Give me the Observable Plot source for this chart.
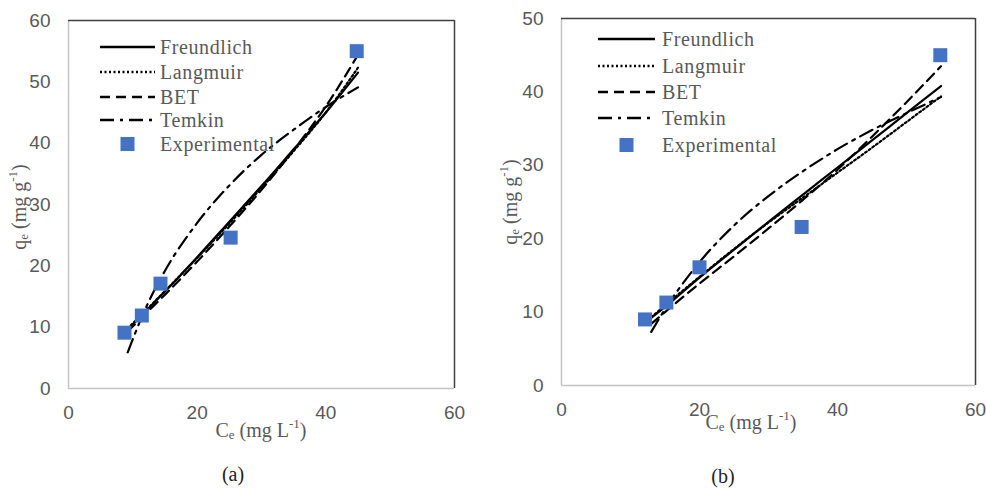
<!DOCTYPE html>
<html>
<head>
<meta charset="utf-8">
<script src="https://cdn.jsdelivr.net/npm/d3@7"></script>
<script src="https://cdn.jsdelivr.net/npm/@observablehq/plot@0.6"></script>
<style>
  html, body { margin: 0; padding: 0; background: #fff; }
  #wrap { position: relative; width: 986px; height: 488px; overflow: hidden; }
  .panel { position: absolute; top: 0; }
  .cap { position: absolute; font-family: "Liberation Serif", "Times New Roman", serif; font-size: 20px; color: #222; transform: translate(-50%, -50%); }
</style>
</head>
<body>
<div id="wrap"></div>
<script>
// ---------- data ----------
const xTicks = [0, 20, 40, 60];
const yTicksA = [0, 10, 20, 30, 40, 50, 60];
const yTicksB = [0, 10, 20, 30, 40, 50];
const seriesNames = ["Freundlich", "Langmuir", "BET", "Temkin"];
const expName = "Experimental";

// panel (a)
const ceExpA = [8.7, 11.4, 14.3, 25.2, 44.8];
const qeExpA = [9.1, 11.9, 17.1, 24.6, 55.0];
const ceFitA = [9.2, 12, 15, 20, 25, 30, 35, 40, 45];
const freundlichA = [9.6, 12.6, 15.8, 21.4, 27.2, 33.0, 39.0, 45.0, 51.5];
const langmuirA   = [9.8, 12.7, 15.9, 21.3, 26.9, 32.7, 38.7, 45.0, 52.3];
const betA        = [9.3, 12.2, 15.3, 20.7, 26.4, 32.4, 38.9, 46.0, 54.4];
const temkinA     = [5.9, 13.1, 19.2, 27.0, 33.1, 38.1, 42.2, 45.9, 49.1];

// panel (b)
const ceExpB = [12.1, 15.2, 20.0, 34.8, 54.9];
const qeExpB = [9.0, 11.3, 16.1, 21.6, 45.0];
const ceFitB = [13, 15, 20, 25, 30, 35, 40, 45, 50, 55];
const freundlichB = [9.2, 10.7, 14.7, 18.5, 22.3, 26.0, 29.7, 33.4, 37.1, 40.8];
const langmuirB   = [9.3, 10.9, 14.8, 18.6, 22.2, 25.6, 29.0, 32.4, 35.9, 39.4];
const betB        = [8.4, 10.0, 13.9, 17.6, 21.4, 25.3, 29.4, 33.9, 38.6, 43.5];
const temkinB     = [7.3, 10.4, 16.8, 21.8, 25.8, 29.2, 32.2, 34.8, 37.1, 39.3];

// ---------- styles ----------
const dashes = [null, "2,2.5", "10,6", "14,6,3,6"];
const blue = "#4472C4";
const gray = "#595959";
const serif = "'Liberation Serif', 'Times New Roman', serif";
const sans = "'Liberation Sans', Arial, sans-serif";

function makePanel(cfg) {
  const {yTicks, ceExp, qeExp, ceFit, fits, m, legend, titles} = cfg;
  const xMax = xTicks[xTicks.length - 1];
  const yMax = yTicks[yTicks.length - 1];
  const exp = ceExp.map((x, i) => ({x, y: qeExp[i]}));
  const lineMarks = fits.map((vals, k) =>
    Plot.line(ceFit.map((x, i) => ({x, y: vals[i]})), {
      x: "x", y: "y", stroke: "#000", strokeWidth: 2.2,
      strokeDasharray: dashes[k] || undefined, curve: "monotone-x"
    })
  );
  const svg = Plot.plot({
    width: 493, height: 488,
    marginLeft: m[0], marginRight: m[1], marginTop: m[2], marginBottom: m[3],
    style: {fontFamily: sans, fontSize: "19px", color: gray, background: "transparent", overflow: "visible"},
    x: {domain: [0, xMax]},
    y: {domain: [0, yMax]},
    marks: [
      Plot.axisX({ticks: xTicks, tickSize: 0, tickPadding: 17, label: null, fontSize: 19}),
      Plot.axisY({ticks: yTicks, tickSize: 0, tickPadding: 18, label: null, fontSize: 19}),
      Plot.ruleY([0], {stroke: "#c4c4c4", strokeWidth: 1.5}),
      Plot.ruleX([0], {stroke: "#c4c4c4", strokeWidth: 1.5}),
      Plot.ruleY([yMax], {stroke: "#404040", strokeWidth: 1.5}),
      Plot.ruleX([xMax], {stroke: "#404040", strokeWidth: 1.5}),
      ...lineMarks,
      Plot.dot(exp, {x: "x", y: "y", symbol: "square", r: 7.9, fill: blue, stroke: "none"})
    ]
  });
  const s = d3.select(svg);
  // y title
  const yt = s.append("text")
    .attr("transform", `translate(${titles.y[0]},${titles.y[1]}) rotate(-90)`)
    .attr("text-anchor", "middle").attr("dominant-baseline", "central")
    .attr("font-family", serif).attr("font-size", 20).attr("fill", gray);
  yt.append("tspan").text("q");
  yt.append("tspan").attr("font-size", 13).attr("dy", 4).text("e");
  yt.append("tspan").attr("dy", -4).text(" (mg g");
  yt.append("tspan").attr("font-size", 13).attr("dy", -7).text("-1");
  yt.append("tspan").attr("dy", 7).text(")");
  // x title
  const xt = s.append("text")
    .attr("x", titles.x[0]).attr("y", titles.x[1])
    .attr("text-anchor", "middle").attr("dominant-baseline", "central")
    .attr("font-family", serif).attr("font-size", 20).attr("fill", gray);
  xt.append("tspan").text("C");
  xt.append("tspan").attr("font-size", 13).attr("dy", 4).text("e");
  xt.append("tspan").attr("dy", -4).text(" (mg L");
  xt.append("tspan").attr("font-size", 13).attr("dy", -7).text("-1");
  xt.append("tspan").attr("dy", 7).text(")");
  // legend
  const g = s.append("g").attr("font-family", serif).attr("font-size", 20).attr("fill", gray)
    .attr("text-anchor", "start");
  seriesNames.forEach((name, k) => {
    const y = legend.ys[k];
    g.append("line").attr("x1", legend.x1).attr("x2", legend.x2).attr("y1", y).attr("y2", y)
      .attr("stroke", "#000").attr("stroke-width", 2.4)
      .attr("stroke-dasharray", dashes[k] || null);
    g.append("text").attr("x", legend.tx).attr("y", y).attr("dominant-baseline", "central")
      .attr("text-anchor", "start").attr("letter-spacing", 0.6).text(name);
  });
  const ye = legend.ys[4];
  const mx = (legend.x1 + legend.x2) / 2;
  g.append("rect").attr("x", mx - 7).attr("y", ye - 7).attr("width", 14).attr("height", 14).attr("fill", blue);
  g.append("text").attr("x", legend.tx).attr("y", ye).attr("dominant-baseline", "central")
    .attr("text-anchor", "start").attr("letter-spacing", 0.6).text(expName);
  return svg;
}

const wrap = document.getElementById("wrap");

const svgA = makePanel({
  yTicks: yTicksA, ceExp: ceExpA, qeExp: qeExpA, ceFit: ceFitA,
  fits: [freundlichA, langmuirA, betA, temkinA],
  m: [68, 39, 20, 100],
  legend: {x1: 100, x2: 155, tx: 160, ys: [47, 72, 97, 120, 144]},
  titles: {y: [19, 207], x: [261, 430]}
});
const svgB = makePanel({
  yTicks: yTicksB, ceExp: ceExpB, qeExp: qeExpB, ceFit: ceFitB,
  fits: [freundlichB, langmuirB, betB, temkinB],
  m: [68, 11, 18, 103],
  legend: {x1: 105, x2: 162, tx: 169, ys: [39, 66, 92, 118, 145]},
  titles: {y: [17, 202], x: [258, 422]}
});

const dA = document.createElement("div"); dA.className = "panel"; dA.style.left = "0px"; dA.appendChild(svgA);
const dB = document.createElement("div"); dB.className = "panel"; dB.style.left = "493px"; dB.appendChild(svgB);
wrap.appendChild(dA); wrap.appendChild(dB);

const capA = document.createElement("div"); capA.className = "cap"; capA.style.left = "233px"; capA.style.top = "474px"; capA.textContent = "(a)";
const capB = document.createElement("div"); capB.className = "cap"; capB.style.left = "723px"; capB.style.top = "476px"; capB.textContent = "(b)";
wrap.appendChild(capA); wrap.appendChild(capB);
</script>
</body>
</html>
